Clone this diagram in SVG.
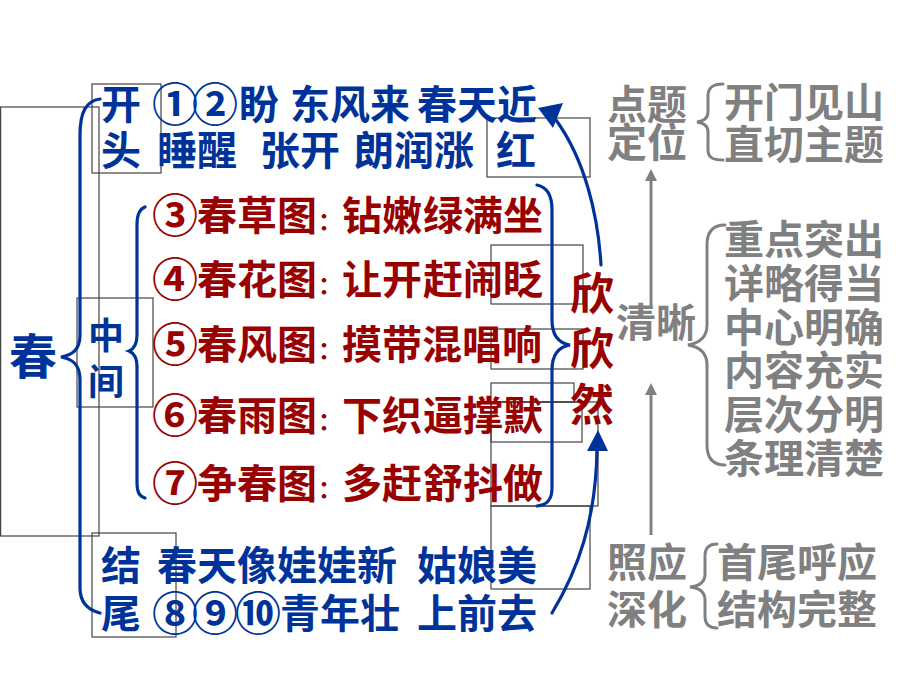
<svg xmlns="http://www.w3.org/2000/svg" width="920" height="690" viewBox="0 0 920 690">
<style>
text{font-family:"Noto Sans CJK SC","Noto Sans",sans-serif;font-weight:700;}
.b{fill:#003399;font-size:40px;}
.r{fill:#990000;font-size:40px;}
.g{fill:#808080;font-size:40px;}
.c{font-size:24px;}
.n{font-size:46px;}
.frame{fill:none;stroke:#444;stroke-width:1.2;}
.bb{fill:none;stroke:#003399;stroke-width:3.2;stroke-linecap:round;}
.gb{fill:none;stroke:#808080;stroke-width:3;stroke-linecap:round;}
</style>
<rect width="920" height="690" fill="#fff"/>
<g id="frames">
<rect class="frame" x="0.6" y="107" width="98.4" height="429"/>
<rect class="frame" x="92" y="84" width="69" height="89"/>
<rect class="frame" x="487" y="118" width="103" height="59"/>
<rect class="frame" x="77" y="298" width="76" height="109"/>
<rect class="frame" x="491" y="245" width="92" height="59"/>
<rect class="frame" x="491" y="329" width="92" height="40"/>
<rect class="frame" x="491" y="383" width="83" height="19"/>
<rect class="frame" x="491" y="402" width="91" height="40"/>
<rect class="frame" x="491" y="402" width="107" height="104"/>
<rect class="frame" x="491" y="506" width="99" height="83"/>
<rect class="frame" x="92" y="533" width="84" height="104"/>
</g>
<g id="connectors">
<path class="bb" d="M100,99 C86,101 80,112 80,135 L80,335 C80,350 72,355 61,357 C72,359 80,364 80,380 L80,588 C80,602 88,610 100,613"/>
<path class="bb" d="M145,207 C139,209 137,215 137,225 L137,335 C137,345 134,349 129,351 C134,353 137,357 137,367 L137,482 C137,492 139,496 145,498"/>
<path class="bb" d="M537,185 C547,187 552,195 552,210 L552,320 C552,335 558,343 570,345 C558,347 552,355 552,370 L552,488 C552,500 547,505 537,506"/>
<path class="bb" d="M601,265 C598,215 585,160 556,120"/>
<polygon points="538,108 563,103 553,128" fill="#003399"/>
<path class="bb" d="M552,613 C578,570 596,520 597,449"/>
<polygon points="598,430 608,451 587,451" fill="#003399"/>
<path class="gb" d="M723,84 C712,84 708,88 708,96 L708,112 C708,118 704,121 697,122 C704,123 708,126 708,132 L708,150 C708,157 712,160 723,160"/>
<path class="gb" d="M725,225 C713,225 707,232 707,245 L707,325 C707,337 700,343 688,345 C700,347 707,353 707,365 L707,445 C707,458 713,465 725,465"/>
<path class="gb" d="M717,544 C709,544 705,548 705,556 L705,574 C705,582 700,586 690,587 C700,588 705,592 705,600 L705,616 C705,624 709,628 717,628"/>
<line x1="651" y1="307" x2="651" y2="178" stroke="#808080" stroke-width="3"/>
<polygon points="651,169 657,181 645,181" fill="#808080"/>
<line x1="651" y1="535" x2="651" y2="392" stroke="#808080" stroke-width="3"/>
<polygon points="651,383 657,395 645,395" fill="#808080"/>
</g>
<g id="node-chun"><text class="b" x="33" y="374" text-anchor="middle" style="font-size:48px">春</text></g>
<g id="node-kaitou">
<text class="b" x="101" y="119">开</text>
<text class="b" x="101" y="165">头</text>
<text class="b" y="119"><tspan class="n" x="152" y="121">①</tspan><tspan class="n" x="192" y="121">②</tspan><tspan x="239" y="119">盼</tspan><tspan x="290">东风来</tspan><tspan x="417">春天近</tspan></text>
<text class="b" y="165"><tspan x="157">睡醒</tspan><tspan x="260">张开</tspan><tspan x="354">朗润涨</tspan><tspan x="496">红</tspan></text>
</g>
<g id="node-zhongjian">
<text class="b" x="106" y="349" text-anchor="middle" style="font-size:36px">中</text>
<text class="b" x="106" y="395" text-anchor="middle" style="font-size:36px">间</text>
</g>
<g id="node-rows">
<text class="r" y="230"><tspan class="n" x="152" y="232">③</tspan><tspan x="197" y="230">春草图</tspan><tspan x="318" class="c">：</tspan><tspan x="342">钻嫩</tspan><tspan x="423">绿满坐</tspan></text>
<text class="r" y="294"><tspan class="n" x="152" y="296">④</tspan><tspan x="197" y="294">春花图</tspan><tspan x="318" class="c">：</tspan><tspan x="342">让开</tspan><tspan x="423">赶闹眨</tspan></text>
<text class="r" y="359"><tspan class="n" x="152" y="361">⑤</tspan><tspan x="197" y="359">春风图</tspan><tspan x="318" class="c">：</tspan><tspan x="342">摸带混唱响</tspan></text>
<text class="r" y="430"><tspan class="n" x="152" y="432">⑥</tspan><tspan x="197" y="430">春雨图</tspan><tspan x="318" class="c">：</tspan><tspan x="342">下织</tspan><tspan x="423">逼撑默</tspan></text>
<text class="r" y="498"><tspan class="n" x="152" y="500">⑦</tspan><tspan x="197" y="498">争春图</tspan><tspan x="318" class="c">：</tspan><tspan x="342">多赶</tspan><tspan x="423">舒抖做</tspan></text>
</g>
<g id="node-xinxinran">
<text class="r" x="592" y="310" text-anchor="middle" style="font-size:44px">欣</text>
<text class="r" x="592" y="365" text-anchor="middle" style="font-size:44px">欣</text>
<text class="r" x="592" y="421" text-anchor="middle" style="font-size:44px">然</text>
</g>
<g id="node-jiewei">
<text class="b" x="101" y="580">结</text>
<text class="b" x="101" y="628">尾</text>
<text class="b" y="580"><tspan x="157">春天像娃娃新</tspan><tspan x="417">姑娘美</tspan></text>
<text class="b" y="628"><tspan class="n" x="152" y="630">⑧</tspan><tspan class="n" x="192" y="630">⑨</tspan><tspan class="n" x="235" y="630">⑩</tspan><tspan x="280" y="628">青年壮</tspan><tspan x="417">上前去</tspan></text>
</g>
<g id="node-dianti">
<text class="g" x="607" y="119">点题</text>
<text class="g" x="607" y="157">定位</text>
<text class="g" x="724" y="117">开门见山</text>
<text class="g" x="724" y="159">直切主题</text>
</g>
<g id="node-qingxi">
<text class="g" x="616" y="337">清晰</text>
<text class="g" x="724" y="254">重点突出</text>
<text class="g" x="724" y="298">详略得当</text>
<text class="g" x="724" y="342">中心明确</text>
<text class="g" x="724" y="385">内容充实</text>
<text class="g" x="724" y="429">层次分明</text>
<text class="g" x="724" y="473">条理清楚</text>
</g>
<g id="node-zhaoying">
<text class="g" x="607" y="577">照应</text>
<text class="g" x="607" y="624">深化</text>
<text class="g" x="717" y="577">首尾呼应</text>
<text class="g" x="717" y="624">结构完整</text>
</g>
</svg>
